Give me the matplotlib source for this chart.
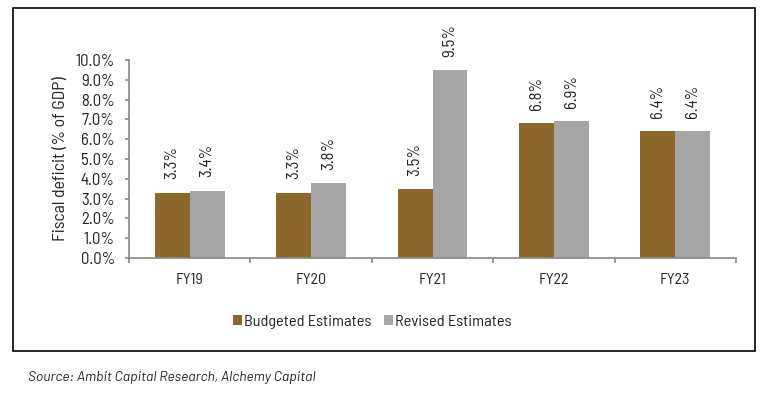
import matplotlib
matplotlib.use("Agg")
import matplotlib.pyplot as plt
from matplotlib.patches import Rectangle
from matplotlib.ticker import FuncFormatter, MultipleLocator
import numpy as np

categories = ["FY19", "FY20", "FY21", "FY22", "FY23"]
budgeted = [3.3, 3.3, 3.5, 6.8, 6.4]
revised = [3.4, 3.8, 9.5, 6.9, 6.4]
series_names = ["Budgeted Estimates", "Revised Estimates"]
ylabel = "Fiscal deficit (% of GDP)"
source = "Source: Ambit Capital Research, Alchemy Capital"

BROWN = "#8C682D"
GRAY = "#A6A6A6"
FONT = ["Barlow Semi Condensed", "DejaVu Sans"]
plt.rcParams['font.family'] = FONT

W, H = 774, 394
fig = plt.figure(figsize=(W / 100, H / 100), dpi=100)

def fx(px):
    return px / W

def fy(py):
    return 1 - py / H

# outer frame
fig.patches.append(Rectangle((fx(13), fy(351)), fx(755) - fx(13), fy(8) - fy(351),
                             transform=fig.transFigure, fill=False, edgecolor="black",
                             linewidth=1.2, zorder=0))

ax = fig.add_axes([fx(129), fy(258), fx(736) - fx(129), fy(60) - fy(258)])
x = np.arange(len(categories))
bw = 0.288
b1 = ax.bar(x - bw / 2, budgeted, width=bw, color=BROWN, label=series_names[0])
b2 = ax.bar(x + bw / 2, revised, width=bw, color=GRAY, label=series_names[1])

for bars, vals in ((b1, budgeted), (b2, revised)):
    for rect, v in zip(bars, vals):
        ax.annotate(f"{v:.1f}%", (rect.get_x() + rect.get_width() / 2, v),
                    xytext=(0, 9.5), textcoords="offset points", rotation=90,
                    ha="center", va="bottom", fontsize=12, color="#222222")

ax.set_xlim(-0.5, len(categories) - 0.5)
ax.set_ylim(0, 10)
ax.yaxis.set_major_locator(MultipleLocator(1))
ax.yaxis.set_major_formatter(FuncFormatter(lambda v, p: f"{v:.1f}%"))
ax.set_xticks(x)
ax.set_xticklabels(categories)
ax.set_xticks(np.arange(-0.5, len(categories)), minor=True)
ax.tick_params(axis="x", which="major", length=0, pad=11, labelsize=11.5, labelcolor="#222222")
ax.tick_params(axis="x", which="minor", length=3.5, color="#888888", width=1.2)
ax.tick_params(axis="y", length=3.2, color="#888888", width=1.2, labelsize=12,
               labelcolor="#222222", pad=7)
for s in ("top", "right"):
    ax.spines[s].set_visible(False)
for s in ("left", "bottom"):
    ax.spines[s].set_color("#888888")
    ax.spines[s].set_linewidth(1.2)
ax.set_ylabel(ylabel, fontsize=12.8, color="#222222")
ax.yaxis.set_label_coords(-0.101, 0.5)

fig.legend(handles=[b1, b2], labels=series_names, loc="center",
           bbox_to_anchor=(fx(372), fy(322)), ncol=2, frameon=False,
           fontsize=11.7, handlelength=0.6, handleheight=0.6, handletextpad=0.1,
           columnspacing=0.75, labelcolor="#222222")

fig.text(fx(28), fy(378), source, fontsize=10, style="italic", ha="left",
         va="center", color="#222222", family=["Barlow", "Barlow Semi Condensed", "DejaVu Sans"])

fig.savefig("out.png", dpi=100)
